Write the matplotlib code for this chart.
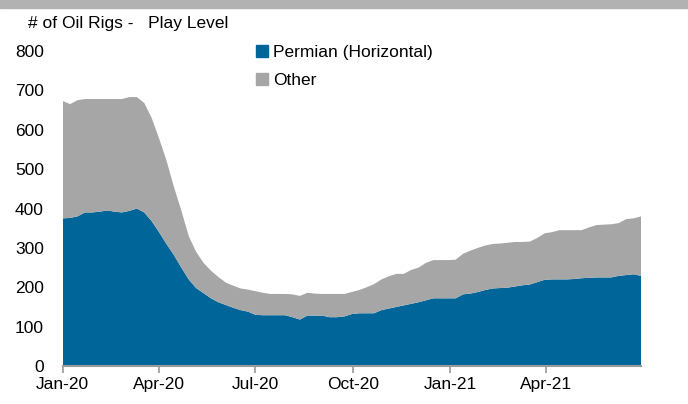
import numpy as np
import pandas as pd
import matplotlib
matplotlib.use("Agg")
import matplotlib.pyplot as plt
import matplotlib.dates as mdates
from matplotlib.patches import Patch, Rectangle

plt.rcParams['font.family'] = ['Liberation Sans', 'DejaVu Sans']

# weekly rig counts
dates = pd.date_range('2020-01-01', periods=79, freq='7D')

permian = [375, 376, 380, 390, 390, 392, 395, 392, 390, 394,
           400, 390, 368, 340, 310, 282, 250, 220, 198, 185,
           172, 162, 155, 148, 142, 138, 130, 129, 129, 129,
           129, 124, 118, 128, 128, 128, 124, 124, 126, 132,
           134, 134, 134, 142, 146, 150, 154, 158, 162, 167,
           172, 172, 172, 172, 182, 184, 188, 193, 197, 198,
           199, 202, 205, 207, 213, 219, 220, 220, 220, 221,
           223, 224, 225, 225, 225, 229, 231, 233, 229]

total = [673, 665, 675, 678, 678, 678, 678, 678, 678, 683,
         683, 668, 630, 578, 522, 455, 395, 330, 290, 262,
         242, 226, 212, 204, 197, 194, 190, 186, 183, 183,
         183, 182, 178, 186, 184, 183, 183, 183, 183, 188,
         193, 200, 208, 220, 228, 234, 234, 244, 250, 262,
         269, 269, 269, 270, 285, 293, 300, 306, 310, 311,
         313, 315, 315, 316, 325, 337, 340, 345, 345, 345,
         345, 352, 358, 359, 360, 363, 373, 375, 380]

other = list(np.array(total) - np.array(permian))

series_names = ['Permian (Horizontal)', 'Other']
colors = ['#006699', '#a6a6a6']

tick_dates = pd.to_datetime(['2020-01-01', '2020-04-01', '2020-07-01',
                             '2020-10-01', '2021-01-01', '2021-04-01'])

fs = 12.5

fig = plt.figure(figsize=(6.88, 4.04), dpi=100)
# grey band along the top
fig.patches.append(Rectangle((0, 0.98), 1, 0.02, transform=fig.transFigure,
                             color='#b2b2b2', zorder=0))

ax = fig.add_axes([0.0911, 0.094, 0.8406, 0.7798])
ax.stackplot(dates, permian, other, colors=colors, linewidth=0)

ax.set_ylim(0, 800)
ax.set_yticks(range(0, 801, 100))
ax.set_xlim(dates[0], dates[-1])
ax.set_xticks(tick_dates)
ax.xaxis.set_major_formatter(mdates.DateFormatter('%b-%y'))

for s in ['top', 'right', 'left']:
    ax.spines[s].set_visible(False)
ax.spines['bottom'].set_color('#999999')
ax.spines['bottom'].set_linewidth(1.5)
ax.tick_params(axis='y', length=0, pad=13.5, labelsize=fs)
ax.tick_params(axis='x', direction='out', length=5, width=1.2,
               color='#999999', pad=3, labelsize=fs)

fig.text(0.04, 0.942, '# of Oil Rigs -   Play Level', fontsize=fs, va='center')

handles = [Patch(color=c) for c in colors]
ax.legend(handles, series_names, loc='upper left', bbox_to_anchor=(0.362, 0.905),
          bbox_transform=fig.transFigure, frameon=False, fontsize=fs,
          handlelength=0.7, handleheight=0.7, handletextpad=0.3,
          labelspacing=0.72, borderaxespad=0)

fig.savefig('out.png', dpi=100)
